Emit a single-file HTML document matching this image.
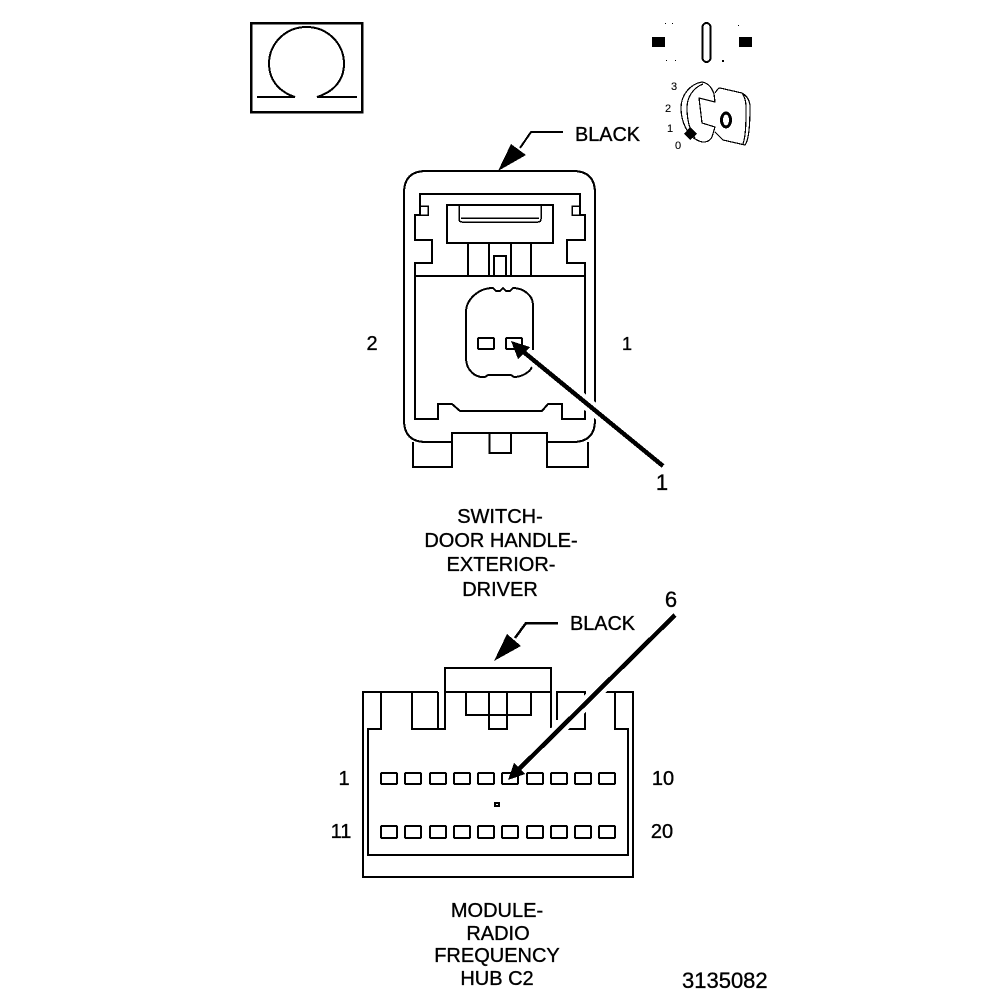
<!DOCTYPE html>
<html><head><meta charset="utf-8"><style>
html,body{margin:0;padding:0;background:#fff}
svg{display:block}
text{font-family:"Liberation Sans",sans-serif;fill:#000;stroke:#000;stroke-width:.35px;font-size:20px}
.m{text-anchor:middle}
.k{font-size:11px;stroke-width:.1px}
</style></head><body>
<svg width="1008" height="1000" viewBox="0 0 1008 1000" xmlns="http://www.w3.org/2000/svg">
<g fill="none" stroke="#000" stroke-width="2" shape-rendering="crispEdges">
<!-- omega -->
<rect x="251" y="23" width="111" height="89" stroke-width="2.5"/>
<path d="M257 97H295C277 91 269 78 269 64C269 43 286 27 306.5 27C327 27 344 43 344 64C344 78 336 91 317 97H357"/>
<!-- key -->
<rect x="702.500" y="23" width="8" height="39" rx="4" stroke-width="2"/>
<g stroke-width="1.2">
<path d="M702 82C690 84 681 95 681 108C681 122 688 136 697 140C702 143 709 143 712 137L715 127L702 123L699 98L715 102L714 94C712 88 708 83 702 82Z"/>
<path d="M703 84C693 88 687 97 687 108C687 120 690 131 695 138"/>
<path d="M715 93C717 90 718 88 720 88L742 93C747 96 750 101 750 107C750 125 749 140 745 145L723 140L715 132"/>
<path d="M742 93C745 97 746 102 746 107C746 122 746 135 743 144"/>
</g>
<ellipse cx="726" cy="120" rx="4.500" ry="7" stroke-width="3"/>
<!-- door connector -->
<path d="M404 420V193Q404 171 426 171H573Q595 171 595 193V420Q595 442 573 442H547V433H452V442H426Q404 442 404 420Z"/>
<path d="M413 442V467H452V433M547 433V467H588V442M489.500 433V453H511V433"/>
<path d="M420 194H580V215H585V240H567V263H585V419H562V404H548L542 411H460L452 404H438V419H415V263H432V240H415V215H420Z"/>
<path d="M420 206H428V215H420M580 206H572V215H580" stroke-width="1.500"/>
<path d="M415 276H585"/>
<rect x="447" y="205" width="106" height="38"/>
<path d="M459 205V219Q459 222 462 222H538Q541 222 541 219V205M461 218H539" stroke-width="1.500"/>
<path d="M468 243V276M489 243V276M511 243V276M531 243V276"/>
<path d="M494 276V256H506V276" />
<path d="M533 350V305C533 295 523 288 513 288L510 291H506L503 288L500 291H496L493 288C478 288 466 300 466 312V358C466 370 475 378 485 377L488 375H511L514 377C522 377 530 372 532 367"/>
<rect x="478" y="338" width="16" height="11" rx="1"/>
<rect x="506" y="338" width="16" height="11" rx="1"/>
<!-- hub connector -->
<path d="M438 692H363V877H633V692H605M615 692V729H628V855H368V729H381V692"/>
<path d="M412 692V729H438V692M438 729H445V668H551V728M445 692H551"/>
<path d="M466 692V715H531V692M489 692V729H507V692"/>
<path d="M557 720V692H585V729H568"/>
<g stroke-width="2">
<rect x="381" y="773" width="16" height="11" rx="1"/><rect x="405" y="773" width="16" height="11" rx="1"/><rect x="430" y="773" width="16" height="11" rx="1"/><rect x="454" y="773" width="16" height="11" rx="1"/><rect x="478" y="773" width="16" height="11" rx="1"/><rect x="502" y="773" width="16" height="11" rx="1"/><rect x="527" y="773" width="16" height="11" rx="1"/><rect x="551" y="773" width="16" height="11" rx="1"/><rect x="575" y="773" width="16" height="11" rx="1"/><rect x="599" y="773" width="16" height="11" rx="1"/>
<rect x="381" y="826" width="16" height="12" rx="1"/><rect x="405" y="826" width="16" height="12" rx="1"/><rect x="430" y="826" width="16" height="12" rx="1"/><rect x="454" y="826" width="16" height="12" rx="1"/><rect x="478" y="826" width="16" height="12" rx="1"/><rect x="502" y="826" width="16" height="12" rx="1"/><rect x="527" y="826" width="16" height="12" rx="1"/><rect x="551" y="826" width="16" height="12" rx="1"/><rect x="575" y="826" width="16" height="12" rx="1"/><rect x="599" y="826" width="16" height="12" rx="1"/>
</g>
<rect x="495" y="803" width="4" height="3"/>
<!-- leaders -->
<path d="M663 466L530 357" stroke="#fff" stroke-width="13"/>
<path d="M675 615L535 753" stroke="#fff" stroke-width="13"/>
<path d="M520 148L531 132H563" stroke-width="2"/>
<path d="M515 638L526 623H558" stroke-width="2.500"/>
<path d="M663 466L520 349" stroke-width="4.500"/>
<path d="M675 615L516 772" stroke-width="4.500"/>
</g>
<g fill="#000" shape-rendering="crispEdges">
<rect x="652" y="37" width="13" height="10"/>
<rect x="739" y="37" width="13" height="10"/>
<path d="M665 23h1v1h-1zM672 23h1v1h-1zM666 60h1v1h-1zM675 60h1v1h-1zM738 25h1v1h-1zM722 60h2v2h-2z"/>
<path d="M690 127L697 134L690 140L684 134Z"/>
<path d="M498 171L511 144L526 155Z"/>
<path d="M494 661L507 634L521 646Z"/>
<path d="M511 341L530 347L518 359Z"/>
<path d="M508 780L514 763L525 774Z"/>
</g>
<text x="575" y="141" textLength="65" lengthAdjust="spacingAndGlyphs">BLACK</text>
<text x="570" y="630" textLength="65" lengthAdjust="spacingAndGlyphs">BLACK</text>
<text x="372" y="350" class="m">2</text>
<text x="627" y="350" class="m" style="font-size:18px">1</text>
<text x="662" y="490" class="m" style="font-size:22px">1</text>
<text x="671" y="607" class="m" style="font-size:22px">6</text>
<text x="500" y="523" class="m">SWITCH-</text>
<text x="501" y="547" class="m">DOOR HANDLE-</text>
<text x="501" y="571" class="m">EXTERIOR-</text>
<text x="500" y="596" class="m">DRIVER</text>
<text x="344" y="785" class="m">1</text>
<text x="663" y="785" class="m">10</text>
<text x="341" y="838" class="m">11</text>
<text x="662" y="838" class="m">20</text>
<text x="497" y="917" class="m">MODULE-</text>
<text x="498" y="940" class="m">RADIO</text>
<text x="497" y="962" class="m">FREQUENCY</text>
<text x="497" y="985" class="m">HUB C2</text>
<text x="682" y="988" style="font-size:22px">3135082</text>
<text x="671" y="90" class="k">3</text>
<text x="665" y="112" class="k">2</text>
<text x="667" y="132" class="k">1</text>
<text x="675" y="149" class="k">0</text>
</svg>
</body></html>
